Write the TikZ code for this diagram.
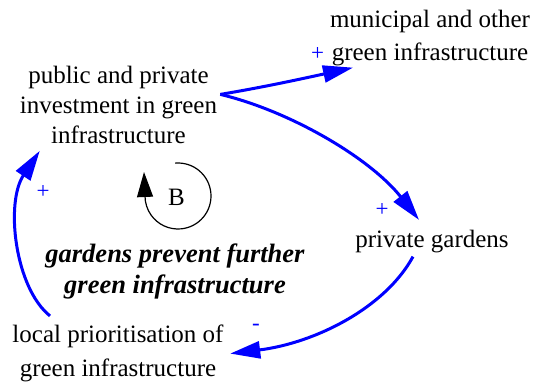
\documentclass[tikz,border=0pt]{standalone}
\usepackage{fontspec}
\setmainfont{Liberation Serif}
\usetikzlibrary{arrows.meta}
\definecolor{linkblue}{RGB}{0,0,255}
\tikzset{
  var/.style={align=center, inner sep=0pt, anchor=north},
  link/.style={draw=linkblue, line width=3pt, -{Triangle[length=30pt,width=17pt]}},
  pol/.style={text=linkblue, inner sep=0pt, font=\fontsize{23}{23}\selectfont},
  looptext/.style={align=center, inner sep=0pt, anchor=north,
    font=\fontsize{26.5}{31}\selectfont\bfseries\itshape},
  loopline/.style={draw=black, line width=1.2pt, -{Triangle[length=25pt,width=16pt]}},
}
\begin{document}
\begin{tikzpicture}[x=1pt,y=1pt]
\useasboundingbox (0,0) rectangle (536,383);

% variables
\node[var, font=\fontsize{25}{33}\selectfont] (muni) at (430,373.1)
  {municipal and other\\green infrastructure};
\node[var, font=\fontsize{25}{30}\selectfont] (pub) at (118.5,317.1)
  {public and private\\investment in green\\infrastructure};
\node[var, font=\fontsize{25}{30}\selectfont] (priv) at (432,153.1)
  {private gardens};
\node[var, font=\fontsize{25}{34}\selectfont] (local) at (118,58.1)
  {local prioritisation of\\green infrastructure};

% loop marker and name
\coordinate (loopc) at (178,187);
\draw[loopline] ([shift={(95:33)}]loopc) arc[start angle=95, end angle=-180, radius=33] -- ++(-1,24);
\node[inner sep=0pt, font=\fontsize{25}{30}\selectfont] (bmark) at (176.5,185.5) {B};
\node[looptext] (loopname) at (175,139.5)
  {gardens prevent further\\green infrastructure};

% causal links
\draw[link] ([shift={(3,10.5)}]pub.east)
  .. controls (265,296) and (310,306) .. ([shift={(-77,-1.6)}]muni.south);
\draw[link] ([shift={(3,10.5)}]pub.east)
  .. controls (290,272) and (370,225) .. ([shift={(-13,10)}]priv.north);
\draw[link] ([shift={(-19,-3.6)}]priv.south)
  .. controls (385,75) and (315,40) .. ([shift={(6.5,0)}]local.east);
\draw[link] ([shift={(-68,9)}]local.north)
  .. controls (15,95) and (5,180) .. ([shift={(20,-7)}]pub.south west);

% link polarities
\node[pol] (p1) at (317.5,328.5) {+};
\node[pol] (p2) at (382,173) {+};
\node[pol] (p3) at (256,56) {-};
\node[pol] (p4) at (43,191.3) {+};
\end{tikzpicture}
\end{document}
